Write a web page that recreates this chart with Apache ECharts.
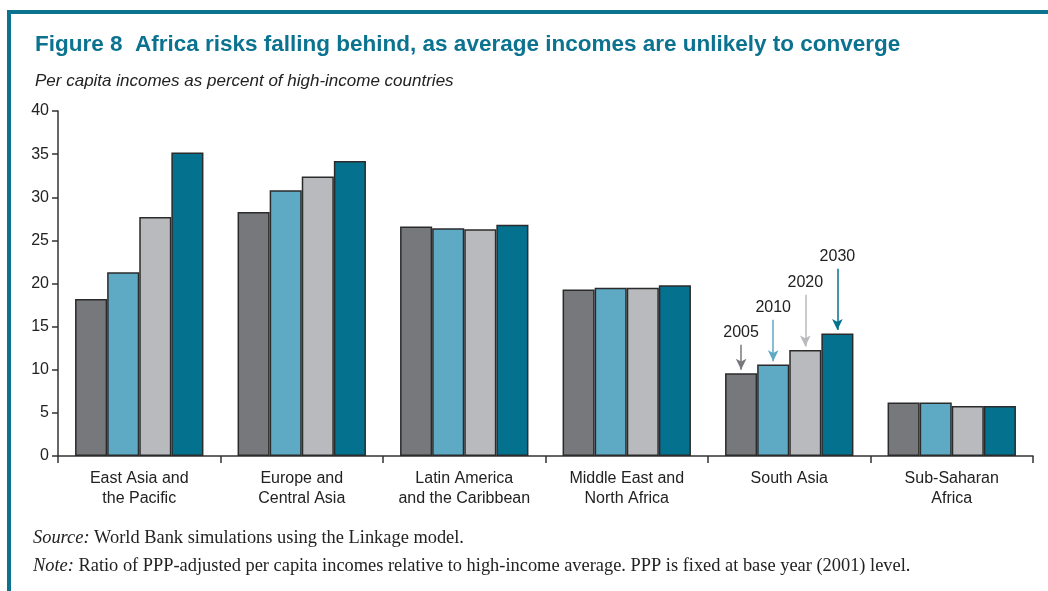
<!DOCTYPE html>
<html>
<head>
<meta charset="utf-8">
<script src="https://cdn.jsdelivr.net/npm/echarts@6/dist/echarts.min.js"></script>
<style>
  html, body { margin: 0; padding: 0; background: #fff; }
  #chart { width: 1048px; height: 591px; }
</style>
</head>
<body>
<div id="chart"></div>
<script>
// regions on the x axis
const categories = ['East Asia and\nthe Pacific', 'Europe and\nCentral Asia', 'Latin America\nand the Caribbean',
  'Middle East and\nNorth Africa', 'South Asia', 'Sub-Saharan\nAfrica'];
const years = ['2005', '2010', '2020', '2030'];
// per capita income as % of high-income countries
const v2005 = [18.2, 28.3, 26.6, 19.3, 9.6, 6.2];
const v2010 = [21.3, 30.8, 26.4, 19.5, 10.6, 6.2];
const v2020 = [27.7, 32.4, 26.3, 19.5, 12.3, 5.8];
const v2030 = [35.2, 34.2, 26.8, 19.8, 14.2, 5.8];
const yTicks = [0, 5, 10, 15, 20, 25, 30, 35, 40];
// year callouts over South Asia: where each arrow starts (axis units)
const calloutIndex = 4;
const arrowTop = [12.9, 15.8, 18.7, 21.7];

const colors = ['#77787c', '#5eaac4', '#b9babd', '#04718f'];
const allValues = [v2005, v2010, v2020, v2030];

const chart = echarts.init(document.getElementById('chart'));

const series = years.map((y, i) => ({
  name: y,
  type: 'bar',
  data: allValues[i],
  barGap: '0%',
  barCategoryGap: '21%',
  itemStyle: { color: colors[i], borderColor: '#2b2b2b', borderWidth: 1.5 },
  markLine: {
    silent: true,
    animation: false,
    symbol: ['none', 'arrow'],
    symbolSize: [8, 11],
    lineStyle: { color: colors[i], width: 1.5, type: 'solid' },
    label: {
      show: true, position: 'start', formatter: y, distance: 4,
      color: '#222', fontSize: 16, fontFamily: 'Liberation Sans, Arial, sans-serif'
    },
    data: [[
      { coord: [calloutIndex, arrowTop[i]] },
      { coord: [calloutIndex, allValues[i][calloutIndex] + 0.4] }
    ]]
  }
}));

const serif = 'Liberation Serif, serif';

chart.setOption({
  animation: false,
  textStyle: { fontFamily: 'Liberation Sans, Arial, sans-serif' },
  title: {
    text: 'Figure 8  Africa risks falling behind, as average incomes are unlikely to converge',
    left: 30, top: 28,
    textStyle: { color: '#0b7290', fontSize: 22.5, fontWeight: 'bold', fontFamily: 'Liberation Sans, Arial, sans-serif' },
    subtext: 'Per capita incomes as percent of high-income countries',
    itemGap: 17,
    subtextStyle: { color: '#222', fontSize: 17, fontStyle: 'italic', fontFamily: 'Liberation Sans, Arial, sans-serif' }
  },
  grid: { left: 58, right: 15, top: 111, bottom: 135 },
  xAxis: {
    type: 'category',
    data: categories,
    axisLine: { lineStyle: { color: '#333', width: 1.5 } },
    axisTick: { show: true, interval: 0, length: 7, lineStyle: { color: '#333', width: 1.5 } },
    axisLabel: { interval: 0, color: '#222', fontSize: 16, lineHeight: 20, margin: 13 }
  },
  yAxis: {
    type: 'value',
    min: yTicks[0], max: yTicks[yTicks.length - 1], interval: 5,
    splitLine: { show: false },
    axisLine: { show: true, lineStyle: { color: '#333', width: 1.5 } },
    axisTick: { show: true, length: 6, lineStyle: { color: '#333', width: 1.5 } },
    axisLabel: { color: '#222', fontSize: 16, margin: 9 }
  },
  graphic: [
    { type: 'rect', shape: { x: 7, y: 10, width: 1041, height: 4 }, style: { fill: '#0b7290' }, silent: true },
    { type: 'rect', shape: { x: 7, y: 10, width: 4, height: 581 }, style: { fill: '#0b7290' }, silent: true },
    {
      type: 'text', left: 33, top: 529, silent: true,
      style: {
        text: '{i|Source:} World Bank simulations using the Linkage model.',
        rich: { i: { fontStyle: 'italic', fontSize: 18.4, fontFamily: serif, fill: '#222' } },
        fontSize: 18.4, fontFamily: serif, fill: '#222'
      }
    },
    {
      type: 'text', left: 33, top: 557, silent: true,
      style: {
        text: '{i|Note:} Ratio of PPP-adjusted per capita incomes relative to high-income average. PPP is fixed at base year (2001) level.',
        rich: { i: { fontStyle: 'italic', fontSize: 18.4, fontFamily: serif, fill: '#222' } },
        fontSize: 18.4, fontFamily: serif, fill: '#222'
      }
    }
  ],
  series: series
});
</script>
</body>
</html>
